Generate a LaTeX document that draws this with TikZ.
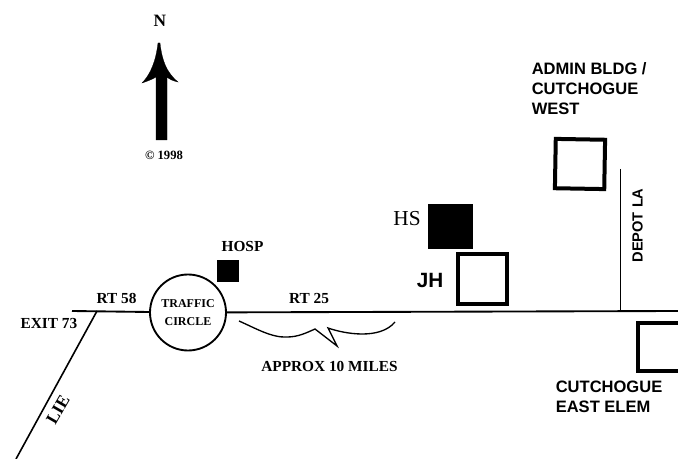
\documentclass[tikz,border=0pt]{standalone}
\usepackage{fontspec}
\setmainfont{Liberation Serif}
\setsansfont{Liberation Sans}
\usepackage{tikz}
\tikzset{
    road/.style={draw=black,line width=1.4pt},
    solidbldg/.style={draw=none,fill=black,minimum size=#1,inner sep=0pt},
    openbldg/.style={draw=black,line width=3pt,minimum size=#1,inner sep=0pt},
    romanlabel/.style={font=\bfseries\fontsize{11.5}{12}\selectfont,inner sep=0pt},
    sanslabel/.style={font=\sffamily\bfseries\fontsize{12.4}{15}\selectfont,inner sep=0pt,align=left}
}
\begin{document}
\begin{tikzpicture}[x=0.75pt,y=-0.75pt]
\useasboundingbox (0,0) rectangle (678,459);

% roads
\node[draw=black,line width=1.4pt,circle,minimum size=57pt,inner sep=0pt,
      align=center,font=\bfseries\fontsize{9}{13}\selectfont] (circle) at (188,312.5) {TRAFFIC\\CIRCLE};
\coordinate (exitend) at (72,311);
\coordinate (exit) at (97,311);
\coordinate (roadend) at (678,311);
\coordinate (liesouth) at (16,459);
\coordinate (depotnorth) at (620.5,169);
\coordinate (depotsouth) at (620.5,311);
\draw[road] (exitend) -- (circle);
\draw[road] (circle) -- (roadend);
\draw[line width=1.2pt] (exit) -- (liesouth);
\draw[line width=1.2pt] (depotnorth) -- (depotsouth);

% buildings
\node[solidbldg=16.5pt] (hosp) at (228,271.5) {};
\node[solidbldg=33.5pt] (hs) at (450.5,226.5) {};
\node[openbldg=37pt] (jh) at (482.5,279) {};
\node[openbldg=37pt,rotate=-1] (admin) at (580,164) {};
\node[openbldg=36pt] (eastelem) at (662,347) {};

% north arrow
\filldraw[fill=black,draw=black,line width=0.2pt]
    (160,43) .. controls (162,60) and (166,72) .. (178,82)
    .. controls (173,81) and (169,79) .. (167,77)
    -- (167,140) -- (156,140) -- (156,77)
    .. controls (153,79) and (148,81) .. (142,83)
    .. controls (151,74) and (156,60) .. (158,43) -- cycle;

% distance squiggle
\draw[line width=1pt]
    (239,321) .. controls (255,328) and (272,338) .. (287,337)
    .. controls (298,337) and (306,333) .. (315,329)
    -- (337,346) -- (328,328)
    .. controls (345,334) and (380,340) .. (395,322);

% labels
\node[romanlabel,font=\bfseries\fontsize{13}{14}\selectfont] (north) at (160,21) {N};
\node[romanlabel,font=\bfseries\fontsize{9.5}{10}\selectfont] (copy) at (164,155) {\textcopyright{} 1998};
\node[romanlabel] (hosplabel) at (242.5,247) {HOSP};
\node[romanlabel] (rtwest) at (116.5,298) {RT 58};
\node[romanlabel] (rteast) at (309,298) {RT 25};
\node[romanlabel] (exitlabel) at (49,324) {EXIT 73};
\node[romanlabel,rotate=60,font=\bfseries\fontsize{13}{14}\selectfont] (lie) at (58,410) {LIE};
\node[romanlabel] (approx) at (329.5,366) {APPROX 10 MILES};
\node[romanlabel,font=\fontsize{16}{17}\selectfont] (hslabel) at (407,219) {HS};
\node[sanslabel,font=\sffamily\bfseries\fontsize{15.5}{17}\selectfont] (jhlabel) at (430,280) {JH};
\node[sanslabel,anchor=north west] (adminlabel) at (531.5,62) {ADMIN BLDG /\\CUTCHOGUE\\WEST};
\node[sanslabel,anchor=north west] (eastlabel) at (555.5,381) {CUTCHOGUE\\EAST ELEM};
\node[sanslabel,rotate=90,font=\sffamily\bfseries\fontsize{11}{12}\selectfont] (depot) at (637.5,225.5) {DEPOT LA};

\end{tikzpicture}
\end{document}
